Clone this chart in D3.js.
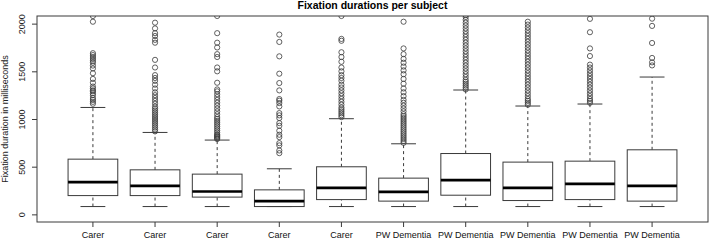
<!DOCTYPE html>
<html>
<head>
<meta charset="utf-8">
<script src="https://cdn.jsdelivr.net/npm/d3@7"></script>
<style>
  body { margin: 0; background: #fff; }
  svg { display: block; font-family: "Liberation Sans", Arial, sans-serif; }
</style>
</head>
<body>
<svg id="chart"></svg>
<script>
// groups along the x axis
const subjects = ['Carer', 'Carer', 'Carer', 'Carer', 'Carer',
  'PW Dementia', 'PW Dementia', 'PW Dementia', 'PW Dementia', 'PW Dementia'];

// five-number summaries (ms)
const lowWhisker = [82, 82, 82, 82, 82, 82, 82, 82, 82, 82];
const q1 = [197, 197, 181, 82, 155, 139, 201, 145, 155, 139];
const medians = [338, 299, 240, 139, 278, 236, 359, 278, 320, 299];
const q3 = [579, 467, 422, 257, 499, 380, 638, 548, 558, 677];
const highWhisker = [1121, 859, 779, 478, 1003, 740, 1304, 1136, 1157, 1440];

// outliers per subject (ms)
const outliers1 = [1160, 1180, 1200, 1220, 1250, 1270, 1290, 1300, 1320, 1340, 1380, 1420, 1480, 1530,
  1560, 1590, 1610, 1630, 1650, 1670, 1690, 2020, 2080];
const outliers2 = [870, 890, 910, 930, 950, 970, 990, 1010, 1030, 1050, 1070, 1090, 1110, 1130, 1160,
  1190, 1220, 1250, 1280, 1320, 1360, 1400, 1430, 1460, 1540, 1620, 1800, 1830, 1870, 1900, 1950, 2010];
const outliers3 = [790, 800, 810, 820, 830, 840, 860, 880, 900, 920, 940, 960, 980, 1000, 1020, 1050,
  1080, 1110, 1140, 1170, 1200, 1230, 1260, 1290, 1310, 1380, 1500, 1540, 1650, 1680, 1750, 1800, 1900, 2080];
const outliers4 = [642, 670, 723, 747, 810, 835, 877, 929, 957, 1010, 1038, 1062, 1132, 1167, 1192,
  1209, 1300, 1377, 1475, 1657, 1808, 1885];
const outliers5 = [1020, 1040, 1060, 1080, 1100, 1120, 1150, 1180, 1210, 1240, 1270, 1300, 1330, 1360,
  1400, 1430, 1460, 1500, 1540, 1600, 1650, 1700, 1820, 1840, 2080];
const outliers6 = [750, 770, 790, 810, 830, 850, 870, 890, 910, 930, 950, 970, 990, 1010, 1030, 1050,
  1080, 1110, 1140, 1170, 1200, 1240, 1280, 1320, 1370, 1420, 1470, 1510, 1550, 1590, 1630, 1680, 1740, 2020];
const outliers7 = [1310, 1330, 1350, 1370, 1390, 1410, 1440, 1470, 1500, 1530, 1560, 1590, 1620, 1650,
  1680, 1710, 1740, 1770, 1800, 1830, 1860, 1890, 1920, 1950, 1980, 2010, 2040, 2070, 2090];
const outliers8 = [1150, 1170, 1190, 1210, 1240, 1270, 1300, 1330, 1360, 1390, 1420, 1450, 1480, 1510,
  1540, 1570, 1600, 1630, 1660, 1690, 1720, 1750, 1780, 1810, 1840, 1870, 1900, 1930, 1960, 1990, 2020];
const outliers9 = [1170, 1190, 1210, 1240, 1270, 1300, 1330, 1360, 1390, 1420, 1450, 1480, 1510, 1540,
  1570, 1660, 1740, 1910, 2050];
const outliers10 = [1562, 1594, 1640, 1797, 1976, 2052];
const outliers = [outliers1, outliers2, outliers3, outliers4, outliers5,
  outliers6, outliers7, outliers8, outliers9, outliers10];

const yTicks = [0, 500, 1000, 1500, 2000];

const width = 709, height = 241;
const plot = { left: 37, right: 708, top: 16, bottom: 222 };

const svg = d3.select('#chart').attr('width', width).attr('height', height);

// Scales (R style: 4% extension of the limits)
const x = d3.scaleBand()
  .domain(subjects.map((d, i) => i))
  .range([plot.left, plot.right])
  .paddingInner(0.2)
  .paddingOuter(0.5);

const y = d3.scaleLinear()
  .domain([-80, 2080])
  .range([plot.bottom, plot.top]);

const ink = '#3a3a3a';
const bw = x.bandwidth();
const cx = (i) => x(i) + bw / 2;

svg.append('clipPath').attr('id', 'clip')
  .append('rect')
  .attr('x', plot.left).attr('y', plot.top)
  .attr('width', plot.right - plot.left).attr('height', plot.bottom - plot.top);

const g = svg.append('g').attr('clip-path', 'url(#clip)');

const boxes = g.selectAll('g.box')
  .data(subjects.map((s, i) => i))
  .join('g')
  .attr('class', 'box');

// dashed whiskers
boxes.append('line')
  .attr('x1', cx).attr('x2', cx)
  .attr('y1', (i) => y(lowWhisker[i])).attr('y2', (i) => y(q1[i]))
  .attr('stroke', ink).attr('stroke-dasharray', '3,3');
boxes.append('line')
  .attr('x1', cx).attr('x2', cx)
  .attr('y1', (i) => y(q3[i])).attr('y2', (i) => y(highWhisker[i]))
  .attr('stroke', ink).attr('stroke-dasharray', '3,3');

// whisker caps
[lowWhisker, highWhisker].forEach((arr) => {
  boxes.append('line')
    .attr('x1', (i) => cx(i) - bw / 4).attr('x2', (i) => cx(i) + bw / 4)
    .attr('y1', (i) => y(arr[i])).attr('y2', (i) => y(arr[i]))
    .attr('stroke', ink).attr('stroke-width', 1);
});

// boxes
boxes.append('rect')
  .attr('x', (i) => x(i))
  .attr('y', (i) => y(q3[i]))
  .attr('width', bw)
  .attr('height', (i) => y(q1[i]) - y(q3[i]))
  .attr('fill', '#fff')
  .attr('stroke', ink);

// medians
boxes.append('line')
  .attr('x1', (i) => x(i)).attr('x2', (i) => x(i) + bw)
  .attr('y1', (i) => y(medians[i])).attr('y2', (i) => y(medians[i]))
  .attr('stroke', '#000').attr('stroke-width', 2.6);

// outliers
boxes.selectAll('circle')
  .data((i) => outliers[i].map((v) => ({ i, v })))
  .join('circle')
  .attr('cx', (d) => cx(d.i))
  .attr('cy', (d) => y(d.v))
  .attr('r', 2.6)
  .attr('fill', 'none')
  .attr('stroke', ink)
  .attr('stroke-width', 0.8);

// frame
svg.append('rect')
  .attr('x', plot.left).attr('y', plot.top)
  .attr('width', plot.right - plot.left).attr('height', plot.bottom - plot.top)
  .attr('fill', 'none').attr('stroke', ink);

// y axis
const yAxis = svg.append('g')
  .attr('transform', `translate(${plot.left},0)`)
  .call(d3.axisLeft(y).tickValues(yTicks).tickFormat(d3.format('d')).tickSize(5).tickPadding(0));
yAxis.select('.domain').remove();
yAxis.selectAll('.tick line').attr('stroke', ink);
yAxis.selectAll('.tick text')
  .attr('x', 0).attr('dy', 0)
  .attr('text-anchor', 'middle')
  .attr('transform', 'translate(-12.5,0) rotate(-90)')
  .attr('font-size', 9).attr('fill', '#222');

// x axis
const xAxis = svg.append('g')
  .attr('transform', `translate(0,${plot.bottom})`)
  .call(d3.axisBottom(x).tickFormat((i) => subjects[i]).tickSize(5).tickPadding(5));
xAxis.select('.domain').remove();
xAxis.selectAll('.tick line').attr('stroke', ink);
xAxis.selectAll('.tick text').attr('font-size', 9).attr('fill', '#111');

// titles
svg.append('text')
  .attr('x', (plot.left + plot.right) / 2)
  .attr('y', 9)
  .attr('text-anchor', 'middle')
  .attr('font-size', 10.5).attr('font-weight', 'bold')
  .text('Fixation durations per subject');

svg.append('text')
  .attr('transform', `translate(8,${(y(0) + y(2000)) / 2}) rotate(-90)`)
  .attr('text-anchor', 'middle')
  .attr('font-size', 9).attr('fill', '#222')
  .text('Fixation duration in milliseconds');
</script>
</body>
</html>
